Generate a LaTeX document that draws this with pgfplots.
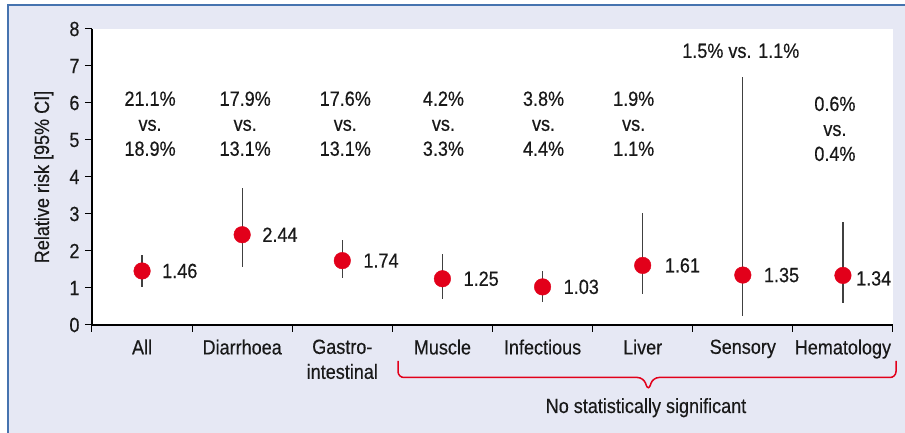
\documentclass[border=0pt]{standalone}
\usepackage{pgfplots}
\pgfplotsset{compat=1.18}
\usepackage{pgfplotstable}
\usepackage{fontspec}
\setmainfont{Liberation Sans}[FakeStretch=0.88, FakeBold=0.4]
\definecolor{myred}{RGB}{226,0,26}
\definecolor{lav}{RGB}{230,232,244}
\definecolor{frameblue}{RGB}{70,115,175}
\definecolor{txt}{RGB}{25,25,25}
\newcommand{\f}{\fontsize{20.5}{25}\selectfont}
\pgfplotstableread{
x y ep em dx dy
0 1.46 0.44 0.43 20 0
1 2.44 1.26 0.86 20 0
2 1.74 0.56 0.46 21 0
3 1.25 0.67 0.55 21 0
4 1.03 0.44 0.40 21 0
5 1.61 1.41 0.78 22 0
6 1.35 5.36 1.11 21 0
7 1.34 1.45 0.74 13 -3
}\data
\begin{document}
\begin{tikzpicture}[x=1pt,y=1pt]
\useasboundingbox (0,0) rectangle (905,433);
\fill[white] (0,0) rectangle (905,433);
\fill[lav] (8,0) rectangle (905,428);
\draw[frameblue,line width=1.5pt] (8,0) -- (8,428) -- (905,428);
\begin{axis}[
  at={(92pt,108pt)}, anchor=south west,
  scale only axis, width=801pt, height=296pt,
  xmin=-0.5, xmax=7.5, ymin=0, ymax=8,
  axis lines=left,
  axis line style={-, line width=1.4pt, black},
  axis background/.style={fill=white},
  tick align=outside,
  major tick length=7pt,
  tick style={line width=1pt, black},
  ytick={0,1,2,3,4,5,6,7,8},
  xtick={-0.5,0.5,1.5,2.5,3.5,4.5,5.5,6.5,7.5},
  xticklabels={},
  extra x ticks={0,1,2,3,4,5,6,7},
  extra x tick labels={All,Diarrhoea,{Gastro-\\intestinal},Muscle,Infectious,Liver,Sensory,Hematology},
  extra x tick style={major tick length=0pt},
  xticklabel style={font=\f, text=txt, align=center, yshift=-11pt},
  yticklabel style={font=\f, text=txt, xshift=-2pt},
  /pgf/number format/assume math mode=true,
  ylabel={Relative risk [95\% CI]},
  every axis y label/.style={at={(axis description cs:-0.0537,0.5)}, rotate=90, anchor=base, font=\f, text=txt},
  clip=false,
]
\addplot[draw=none, mark=none, forget plot,
  error bars/.cd, y dir=both, y explicit, error mark=none,
  error bar style={draw=black!75, line width=1.2pt}]
  table[x=x, y=y, y error plus=ep, y error minus=em] {\data};
\addplot[only marks, mark=*, mark size=8.3pt, mark options={fill=myred, draw=myred},
  visualization depends on={\thisrow{dx} \as \dx},
  visualization depends on={\thisrow{dy} \as \dy},
  nodes near coords,
  nodes near coords style={font=\f, text=txt, anchor=west, inner sep=0pt, xshift=\dx pt, yshift=\dy pt,
    /pgf/number format/.cd, fixed, fixed zerofill, precision=2, assume math mode=true},
  ] table[x=x, y=y] {\data};
\tikzset{ann/.style={font=\f, text=txt, align=center, anchor=center}}
\node[ann] at (axis cs:0.08,5.44) {21.1\%\\vs.\\18.9\%};
\node[ann] at (axis cs:1.03,5.44) {17.9\%\\vs.\\13.1\%};
\node[ann] at (axis cs:2.03,5.44) {17.6\%\\vs.\\13.1\%};
\node[ann] at (axis cs:3.01,5.44) {4.2\%\\vs.\\3.3\%};
\node[ann] at (axis cs:4.01,5.44) {3.8\%\\vs.\\4.4\%};
\node[ann] at (axis cs:4.91,5.44) {1.9\%\\vs.\\1.1\%};
\node[ann] at (axis cs:5.98,7.41) {1.5\% vs. 1.1\%};
\node[ann] at (axis cs:6.92,5.30) {0.6\%\\vs.\\0.4\%};
\end{axis}
\draw[myred, line width=1.5pt, rounded corners=6pt] (398,72) -- (398,55.5) -- (643.5,55.5) -- (648.3,42) -- (653,55.5) -- (896,55.5) -- (896,72);
\node[font=\f, text=txt, anchor=base] at (646,20) {No statistically significant};
\end{tikzpicture}
\end{document}
